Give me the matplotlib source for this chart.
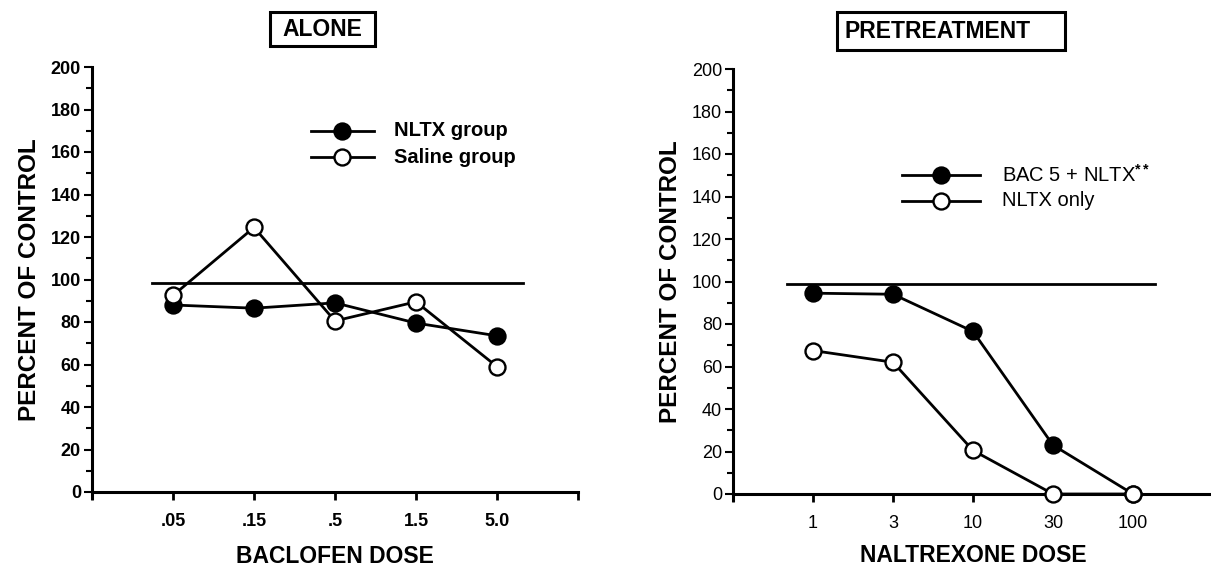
import matplotlib
matplotlib.use("Agg")
import matplotlib.pyplot as plt
from matplotlib.patches import Rectangle

plt.rcParams['font.family'] = ['Liberation Sans', 'DejaVu Sans']
plt.rcParams['mathtext.fontset'] = 'custom'
plt.rcParams['mathtext.rm'] = 'Liberation Sans'
plt.rcParams['mathtext.it'] = 'Liberation Sans'
plt.rcParams['mathtext.bf'] = 'Liberation Sans:bold'

# ---- data ----
baclofen_doses = [".05", ".15", ".5", "1.5", "5.0"]
nltx_group = [88, 86.5, 89, 79.5, 73.5]
saline_group = [92.5, 124.5, 80.5, 89.5, 59]
baseline_alone = 98.5

naltrexone_doses = ["1", "3", "10", "30", "100"]
bac5_nltx = [94.5, 94, 76.5, 23, 0]
nltx_only = [67.5, 62, 20.5, 0, 0]
baseline_pre = 99

W, H = 1211, 573
fig = plt.figure(figsize=(W / 100, H / 100), dpi=100)

ax1 = fig.add_axes([92 / W, (H - 492) / H, 486 / W, 425 / H])
ax2 = fig.add_axes([733 / W, (H - 494) / H, 480 / W, 425 / H])

LW = 2.0
MS = 11.5
MEW = 1.7


def style_axes(ax, xlabels, tick_weight):
    ax.set_xlim(0, 6)
    ax.set_ylim(0, 200)
    for s in ("top", "right"):
        ax.spines[s].set_visible(False)
    for s in ("left", "bottom"):
        ax.spines[s].set_linewidth(2.2)
    ax.spines["left"].set_bounds(-3, 200)
    ax.set_xticks(range(7))
    ax.set_xticklabels([""] + xlabels + [""])
    ax.set_yticks(range(0, 201, 20))
    ax.set_yticks(range(10, 200, 20), minor=True)
    ax.tick_params(axis="x", direction="out", length=6, width=2, pad=9,
                   labelsize=13)
    ax.tick_params(axis="y", which="major", direction="out", length=6,
                   width=1.5, pad=2, labelsize=13)
    ax.tick_params(axis="y", which="minor", direction="out", length=4,
                   width=1.5)
    for lab in ax.get_xticklabels() + ax.get_yticklabels():
        lab.set_fontweight(tick_weight)
    ax.set_ylabel("PERCENT OF CONTROL", fontsize=17.5, fontweight="heavy",
                  labelpad=7)
    ax.patch.set_alpha(0)


def draw_series(ax, values, filled):
    x = list(range(1, len(values) + 1))
    ax.plot(x, values, color="black", lw=LW, marker="o", ms=MS, mew=MEW,
            mec="black", mfc="black" if filled else "white",
            clip_on=False, zorder=3 if filled else 4)


def legend_row(ax, x0, x1, y, filled, label, tx, weight, size):
    ax.plot([x0, x1], [y, y], color="black", lw=LW, clip_on=False)
    ax.plot([(x0 + x1) / 2], [y], marker="o", ms=MS, mew=MEW, mec="black",
            mfc="black" if filled else "white", clip_on=False)
    ax.text(tx, y, label, fontsize=size, fontweight=weight, va="center",
            ha="left")


# ---- left panel: baclofen alone ----
style_axes(ax1, baclofen_doses, "bold")
ax1.plot([0.74, 5.32], [baseline_alone, baseline_alone], color="black",
         lw=LW, zorder=2)
draw_series(ax1, nltx_group, True)
draw_series(ax1, saline_group, False)
ax1.set_xlabel("BACLOFEN DOSE", fontsize=16.5, fontweight="heavy",
               labelpad=11)
legend_row(ax1, 2.70, 3.48, 170, True, "NLTX group", 3.73, "bold", 14.5)
legend_row(ax1, 2.70, 3.48, 157.6, False, "Saline group", 3.73, "bold", 14.5)

# ---- right panel: naltrexone pretreatment ----
style_axes(ax2, naltrexone_doses, "normal")
ax2.plot([0.68, 5.28], [baseline_pre, baseline_pre], color="black",
         lw=LW, zorder=2)
draw_series(ax2, bac5_nltx, True)
draw_series(ax2, nltx_only, False)
ax2.set_xlabel("NALTREXONE DOSE", fontsize=16.5, fontweight="heavy",
               labelpad=9)
legend_row(ax2, 2.11, 3.09, 150, True, r"BAC 5 + NLTX$^{\mathbf{**}}$", 3.36,
           "normal", 14.5)
legend_row(ax2, 2.11, 3.09, 138, False, "NLTX only", 3.36, "normal", 14.5)

# ---- boxed panel titles ----
fig.add_artist(Rectangle((270 / W, (H - 46) / H), 105 / W, 34 / H,
                         transform=fig.transFigure, fill=False, lw=2.2,
                         ec="black"))
fig.text(322 / W, (H - 29) / H, "ALONE", fontsize=16.5, fontweight="heavy",
         ha="center", va="center")
fig.add_artist(Rectangle((837 / W, (H - 50) / H), 228 / W, 38 / H,
                         transform=fig.transFigure, fill=False, lw=2.2,
                         ec="black"))
fig.text(845 / W, (H - 31) / H, "PRETREATMENT", fontsize=16.5,
         fontweight="heavy", ha="left", va="center")

fig.savefig("out.png", dpi=100)
